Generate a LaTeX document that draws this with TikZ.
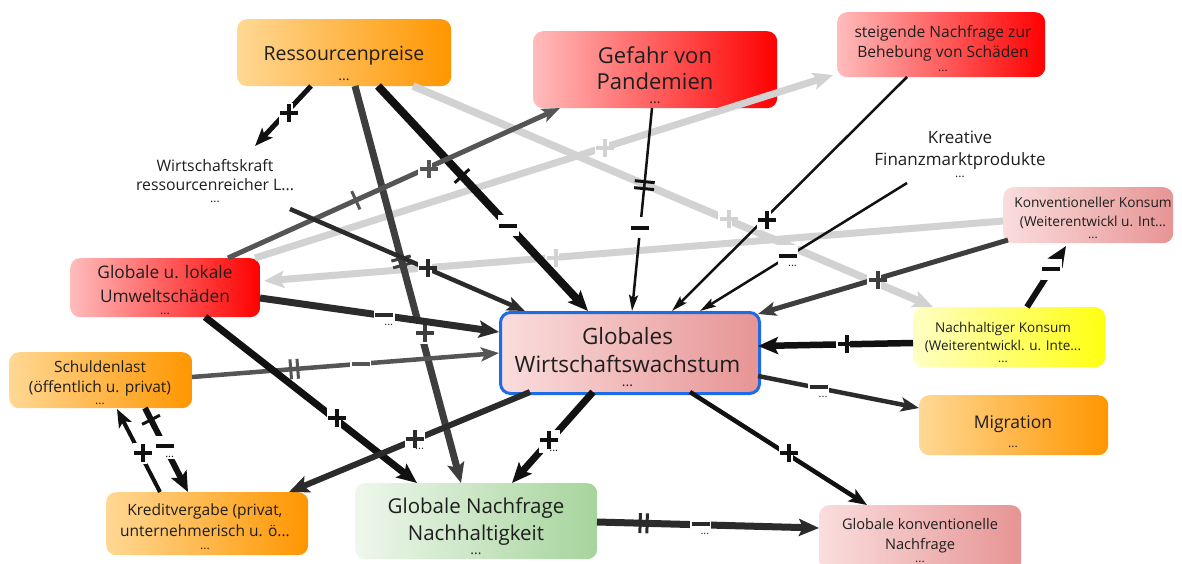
\documentclass[tikz,border=0pt]{standalone}
\usepackage{fontspec}
\setmainfont{Open Sans}
\usetikzlibrary{arrows.meta,calc}

\definecolor{txt}{HTML}{1E1E1E}
\definecolor{orL}{HTML}{FFD894}
\definecolor{orR}{HTML}{FF9600}
\definecolor{rdL}{HTML}{FFBCBC}
\definecolor{rdM}{HTML}{FF4C4C}
\definecolor{rdR}{HTML}{FF0000}
\definecolor{pkL}{HTML}{FADDDD}
\definecolor{pkR}{HTML}{E79494}
\definecolor{ylL}{HTML}{FFFFC4}
\definecolor{ylR}{HTML}{FFFF10}
\definecolor{grL}{HTML}{EEF7EC}
\definecolor{grR}{HTML}{A6D49C}
\definecolor{wwB}{HTML}{1F6AE5}
\definecolor{eK}{HTML}{111111}
\definecolor{eD}{HTML}{2B2B2B}
\definecolor{eM}{HTML}{3E3E3E}
\definecolor{eG}{HTML}{555555}
\definecolor{eL}{HTML}{D2D2D2}

% polarity signs built from rules (18pt square)
\newcommand\pls{\rule[7pt]{18pt}{4pt}\hspace{-11pt}\rule{4pt}{18pt}\hspace{7pt}}
\newcommand\mns{\rule{0pt}{18pt}\rule[7pt]{18pt}{4pt}}
\newcommand\more{\hspace{-9pt}\raisebox{-2pt}{\fontsize{11}{11}\selectfont...}}
% delay marks
\newcommand\dly{\rule{3pt}{20pt}}
\newcommand\ddly{\rule{3pt}{20pt}\hspace{4pt}\rule{3pt}{20pt}}
% trailing dots inside the boxes
\newcommand\ddB{{\fontsize{14}{14}\selectfont...}}
\newcommand\ddS{{\fontsize{12}{12}\selectfont...}}

\begin{document}
\begin{tikzpicture}[x=1pt, y=-1pt,
  box/.style={anchor=north west, rounded corners=10pt, inner sep=0pt},
  orbox/.style={box, left color=orL, right color=orR},
  rdbox/.style={box, left color=rdL, middle color=rdM, right color=rdR},
  pkbox/.style={box, left color=pkL, right color=pkR},
  lbl/.style={anchor=base, inner sep=0pt, text=txt},
  sg/.style={fill=white, inner sep=1.5pt, text=#1},
  tk/.style={sloped, inner sep=0pt, text=#1},
  tipA/.style={-{Stealth[length=20pt, width=17pt, inset=4pt]}},
  tipB/.style={-{Stealth[length=18pt, width=14pt, inset=4pt]}},
  tipC/.style={-{Stealth[length=16pt, width=9pt, inset=3pt]}}
]
\fill[white] (0,0) rectangle (1182,563);
\useasboundingbox (0,0) rectangle (1182,563);

% ---------- boxes ----------
\node (res) [orbox, minimum width=214pt, minimum height=67pt] at (237,19) {};
\node (pan) [rdbox, minimum width=244pt, minimum height=77pt] at (533,31) {};
\node (steig) [rdbox, minimum width=208pt, minimum height=65pt] at (837,12) {};
\node (kk) [pkbox, minimum width=170pt, minimum height=56pt] at (1003,187) {};
\node (um) [rdbox, minimum width=190pt, minimum height=59pt] at (70,258) {};
\node (ww) [pkbox, draw=wwB, line width=3pt, minimum width=259pt, minimum height=81pt] at (499,311) {};
\node (nk) [box, left color=ylL, right color=ylR, minimum width=192pt, minimum height=60pt] at (913,307) {};
\node (sl) [orbox, minimum width=183pt, minimum height=56pt] at (9,352) {};
\node (mig) [orbox, minimum width=189pt, minimum height=60pt] at (919,395) {};
\node (kv) [orbox, minimum width=202pt, minimum height=63pt] at (106,492) {};
\node (gnn) [box, left color=grL, right color=grR, minimum width=242pt, minimum height=76pt] at (355,483) {};
\node (gkn) [pkbox, minimum width=202pt, minimum height=66pt] at (819,505) {};

% ---------- texts ----------
\node (res-t) [lbl] at (344,60) {\fontsize{19.5}{24}\selectfont\begin{tabular}[t]{@{}c@{}}Ressourcenpreise\\[-4pt]\ddB\end{tabular}};
\node (pan-t) [lbl] at (655,63) {\fontsize{22}{26}\selectfont\begin{tabular}[t]{@{}c@{}}Gefahr von\\Pandemien\\[-12pt]\ddB\end{tabular}};
\node (steig-t) [lbl] at (943,37) {\fontsize{15.6}{20}\selectfont\begin{tabular}[t]{@{}c@{}}steigende Nachfrage zur\\Behebung von Schäden\\[-6pt]\ddS\end{tabular}};
\node (wk) [lbl] at (215,171) {\fontsize{15.8}{19}\selectfont\begin{tabular}[t]{@{}c@{}}Wirtschaftskraft\\ressourcenreicher L...\\[-7pt]\ddS\end{tabular}};
\node (kf) [lbl] at (960,143) {\fontsize{17}{22}\selectfont\begin{tabular}[t]{@{}c@{}}Kreative\\Finanzmarktprodukte\\[-10pt]\ddS\end{tabular}};
\node (kk-t) [lbl] at (1093,207) {\fontsize{13.7}{19}\selectfont\begin{tabular}[t]{@{}c@{}}Konventioneller Konsum\\(Weiterentwickl u. Int...\\[-7pt]\ddS\end{tabular}};
\node (um-t) [lbl] at (165,278) {\fontsize{17.3}{24}\selectfont\begin{tabular}[t]{@{}c@{}}Globale u. lokale\\Umweltschäden\\[-12pt]\ddS\end{tabular}};
\node (ww-t) [lbl] at (627.5,344) {\fontsize{22.5}{28}\selectfont\begin{tabular}[t]{@{}c@{}}Globales\\Wirtschaftswachstum\\[-14pt]\ddB\end{tabular}};
\node (nk-t) [lbl] at (1003,332) {\fontsize{13.5}{18}\selectfont\begin{tabular}[t]{@{}c@{}}Nachhaltiger Konsum\\(Weiterentwickl. u. Inte...\\[-6pt]\ddS\end{tabular}};
\node (sl-t) [lbl] at (100,372) {\fontsize{15.5}{20}\selectfont\begin{tabular}[t]{@{}c@{}}Schuldenlast\\(öffentlich u. privat)\\[-8pt]\ddS\end{tabular}};
\node (mig-t) [lbl] at (1013,428) {\fontsize{17.5}{22}\selectfont\begin{tabular}[t]{@{}c@{}}Migration\\[-3pt]\ddS\end{tabular}};
\node (kv-t) [lbl] at (205,515) {\fontsize{15.5}{21}\selectfont\begin{tabular}[t]{@{}c@{}}Kreditvergabe (privat,\\unternehmerisch u. ö...\\[-8pt]\ddS\end{tabular}};
\node (gnn-t) [lbl] at (476,513) {\fontsize{20.5}{27}\selectfont\begin{tabular}[t]{@{}c@{}}Globale Nachfrage\\Nachhaltigkeit\\[-13pt]\ddB\end{tabular}};
\node (gkn-t) [lbl] at (920,529) {\fontsize{14.6}{20}\selectfont\begin{tabular}[t]{@{}c@{}}Globale konventionelle\\Nachfrage\\[-7pt]\ddS\end{tabular}};

% ---------- light connectors ----------
\draw[tipA, line width=7.5pt, draw=eL] ($(res.north west)+(176,67)$) -- node[sg=eL, pos=.6] {\pls} ($(nk.north west)+(20,0)$);
\draw[tipA, line width=7pt, draw=eL] ($(um.north west)+(185,0)$) -- node[sg=eL, pos=.6] {\pls} ($(steig.north west)+(-4,63)$);
\draw[tipA, line width=7pt, draw=eL] ($(kk.north west)+(0,34)$) -- node[sg=eL, pos=.61] {\pls} ($(um.north west)+(194,23)$);

% ---------- dark connectors ----------
\draw[tipB, line width=5pt, draw=eK] ($(res.north west)+(74,67)$) -- node[sg=eK, pos=.45] {\pls} ($(wk.base)+(40,-25)$);
\draw[tipA, line width=8pt, draw=eK] ($(res.north west)+(141,67)$) -- node[tk=eK, pos=.4] {\dly} node[sg=eK, pos=.62] {\mns} ($(ww.north west)+(89,0)$);
\draw[tipA, line width=7pt, draw=eM] ($(res.north west)+(118,67)$) -- node[tk=eM, pos=.443] {\ddly} node[sg=eM, pos=.623] {\pls} ($(gnn.north west)+(106,0)$);
\draw[tipB, line width=5pt, draw=eG] ($(um.north west)+(158,0)$) -- node[tk=eG, pos=.385] {\dly} node[sg=eG, pos=.594] {\pls} ($(pan.north west)+(27,77)$);
\draw[tipB, line width=4.5pt, draw=eD] ($(wk.base)+(75,38)$) -- node[sg=eD, pos=.574] {\pls} ($(ww.north west)+(26,0)$);
\draw[tipC, line width=2.5pt, draw=eK] ($(pan.north west)+(119,77)$) -- node[tk=eK, pos=.38] {\ddly} node[sg=eK, pos=.59] {\mns} ($(ww.north west)+(133,0)$);
\draw[tipC, line width=2.5pt, draw=eK] ($(steig.north west)+(70,65)$) -- node[sg=eK, pos=.61] {\pls} ($(ww.north west)+(173,0)$);
\draw[tipC, line width=2.5pt, draw=eK] ($(kf.base)+(-53,40)$) -- node[sg=eK, pos=.575] {\mns\more} ($(ww.north west)+(201,0)$);
\draw[tipB, line width=5pt, draw=eM] ($(kk.north west)+(5,53)$) -- node[sg=eM, pos=.536] {\pls} ($(ww.north west)+(259,3)$);
\draw[tipA, line width=6.5pt, draw=eK] ($(nk.north west)+(0,36)$) -- node[sg=eK, pos=.45] {\pls} ($(ww.north west)+(259,35)$);
\draw[tipA, line width=6pt, draw=eK] ($(nk.north west)+(114,0)$) -- node[sg=eK, pos=.62] {\mns} ($(kk.north west)+(63,59)$);
\draw[tipA, line width=7pt, draw=eD] ($(um.north west)+(190,40)$) -- node[sg=eD, pos=.52] {\mns\more} ($(ww.north west)+(0,21)$);
\draw[tipB, line width=4.5pt, draw=eG] ($(sl.north west)+(183,25)$) -- node[tk=eG, pos=.333] {\ddly} node[sg=eG, pos=.55] {\mns} ($(ww.north west)+(0,42)$);
\draw[tipA, line width=7pt, draw=eK] ($(um.north west)+(135,59)$) -- node[sg=eK, pos=.607] {\pls} ($(gnn.north west)+(62,0)$);
\draw[tipA, line width=6pt, draw=eD] ($(ww.north west)+(31,81)$) -- node[sg=eD, pos=.477] {\pls\more} ($(kv.north west)+(183,0)$);
\draw[tipA, line width=7pt, draw=eK] ($(ww.north west)+(94,81)$) -- node[sg=eK, pos=.54] {\pls\more} ($(gnn.north west)+(157,0)$);
\draw[tipB, line width=4.5pt, draw=eK] ($(ww.north west)+(191,81)$) -- node[sg=eK, pos=.54] {\pls} ($(gkn.north west)+(48,0)$);
\draw[tipB, line width=4.5pt, draw=eD] ($(ww.north west)+(259,65)$) -- node[sg=eD, pos=.376] {\mns\more} ($(mig.north west)+(0,13)$);
\draw[tipA, line width=6pt, draw=eK] ($(sl.north west)+(136,56)$) -- node[tk=eK, pos=.14] {\dly} node[sg=eK, pos=.47] {\mns\more} ($(kv.north west)+(82,0)$);
\draw[tipB, line width=4pt, draw=eK] ($(kv.north west)+(54,0)$) -- node[sg=eK, pos=.47] {\pls} ($(sl.north west)+(108,57)$);
\draw[tipA, line width=7pt, draw=eD] ($(gnn.north west)+(242,39)$) -- node[tk=eD, pos=.21] {\ddly} node[sg=eD, pos=.466] {\mns\more} ($(gkn.north west)+(0,23)$);
\end{tikzpicture}
\end{document}
